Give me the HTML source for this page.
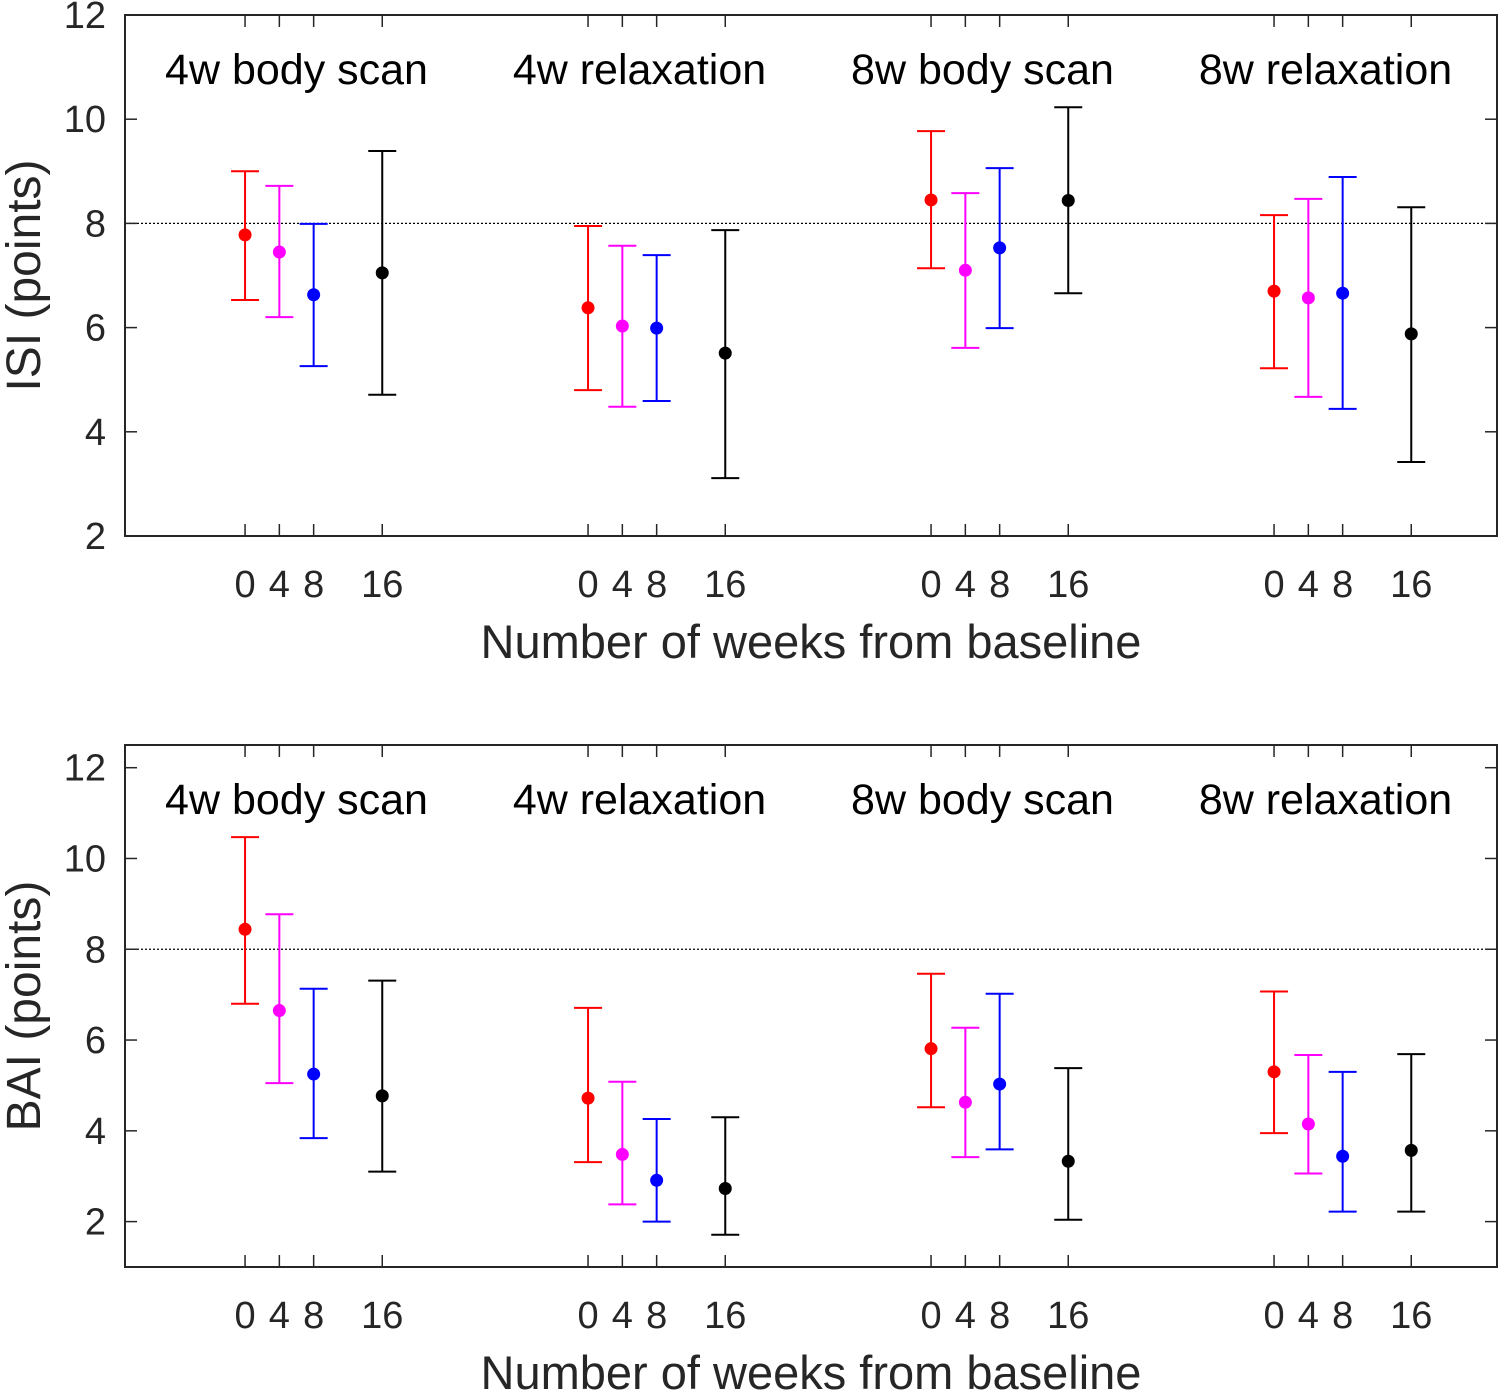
<!DOCTYPE html>
<html><head><meta charset="utf-8"><style>
body{margin:0;background:#fff;}
svg{display:block;font-family:"Liberation Sans",Arial,sans-serif;}
</style></head><body>
<svg id="c" width="1499" height="1393"></svg>
<script>
const groups=["4w body scan","4w relaxation","8w body scan","8w relaxation"];
const weeks=[0,4,8,16];
const colors=["#ff0000","#ff00ff","#0000ff","#000000"];
const isiMean=[[7.78,7.45,6.63,7.05],[6.38,6.03,5.99,5.51],[8.45,7.1,7.53,8.44],[6.7,6.57,6.66,5.88]];
const isiLo=[[6.53,6.2,5.26,4.71],[4.8,4.48,4.59,3.11],[7.14,5.61,5.99,6.66],[5.22,4.67,4.44,3.42]];
const isiHi=[[9.0,8.72,7.99,9.39],[7.95,7.57,7.39,7.87],[9.77,8.58,9.06,10.23],[8.16,8.47,8.89,8.31]];
const baiMean=[[8.44,6.65,5.25,4.77],[4.72,3.48,2.91,2.73],[5.81,4.63,5.03,3.33],[5.3,4.15,3.44,3.57]];
const baiLo=[[6.8,5.05,3.84,3.1],[3.31,2.38,2.0,1.71],[4.52,3.42,3.59,2.04],[3.95,3.06,2.22,2.22]];
const baiHi=[[10.47,8.77,7.13,7.31],[6.71,5.08,4.26,4.3],[7.46,6.27,7.02,5.38],[7.07,5.67,5.3,5.69]];
const yTicks=[2,4,6,8,10,12];
const NS="http://www.w3.org/2000/svg";
const svg=document.getElementById('c');
function mk(tag,attrs,parent){const e=document.createElementNS(NS,tag);for(const k in attrs)e.setAttribute(k,attrs[k]);(parent||svg).appendChild(e);return e;}
const X0=125,X1=1497,xmin=-14,xmax=146;
function xs(w){return X0+(w-xmin)/(xmax-xmin)*(X1-X0);}
function panel(name,top,bot,ymin,ymax,mean,lo,hi,ylabel){
  const g=mk('g',{});
  
  
  const ys=v=>bot-(v-ymin)/(ymax-ymin)*(bot-top);
  const rl=mk('line',{x1:X0,x2:X1,y1:ys(8),y2:ys(8),stroke:'#000','stroke-width':1.3,'stroke-dasharray':'2,2'},g);
  
  
  yTicks.forEach(t=>{
    const y=ys(t);
    mk('line',{x1:X0,x2:X0+12,y1:y,y2:y,stroke:'#262626','stroke-width':1.5},g);
    mk('line',{x1:X1-12,x2:X1,y1:y,y2:y,stroke:'#262626','stroke-width':1.5},g);
    const tx=mk('text',{x:106,y:y+13,'text-anchor':'end','font-size':38,fill:'#262626'},g);
    tx.textContent=t;
    
    
  });
  groups.forEach((gn,gi)=>{
    const off=gi*40;
    weeks.forEach((w,si)=>{
      const x=xs(off+w);
      mk('line',{x1:x,x2:x,y1:bot,y2:bot-12,stroke:'#262626','stroke-width':1.5},g);
      mk('line',{x1:x,x2:x,y1:top,y2:top+12,stroke:'#262626','stroke-width':1.5},g);
      const tl=mk('text',{x:x,y:bot+61,'text-anchor':'middle','font-size':38,fill:'#262626'},g);
      tl.textContent=w;
      
      
      const c=colors[si];
      const eb=mk('g',{stroke:c,'stroke-width':2},g);
      
      
      const yl=ys(lo[gi][si]),yh=ys(hi[gi][si]);
      mk('line',{x1:x,x2:x,y1:yl,y2:yh},eb);
      mk('line',{x1:x-14,x2:x+14,y1:yl,y2:yl},eb);
      mk('line',{x1:x-14,x2:x+14,y1:yh,y2:yh},eb);
      const p=mk('circle',{cx:x,cy:ys(mean[gi][si]),r:6.5,fill:c},g);
      
      
    });
    const tt=mk('text',{x:xs(off+6),y:top+69,'text-anchor':'middle','font-size':43,fill:'#000'},g);
    tt.textContent=gn;
    
    
  });
  const box=mk('rect',{x:X0,y:top,width:X1-X0,height:bot-top,fill:'none',stroke:'#262626','stroke-width':2},g);
  
  
  const xl=mk('text',{x:811,y:bot+122,'text-anchor':'middle','font-size':47,fill:'#262626'},g);
  xl.textContent='Number of weeks from baseline';
  
  
  const cy=(top+bot)/2;
  const yl=mk('text',{x:40,y:cy,'text-anchor':'middle','font-size':48,fill:'#262626',transform:`rotate(-90 40 ${cy})`},g);
  yl.textContent=ylabel;
  
  
}
panel('isi-panel',15,536,2,12,isiMean,isiLo,isiHi,'ISI (points)');
panel('bai-panel',745,1267,1,12.5,baiMean,baiLo,baiHi,'BAI (points)');
</script>
</body></html>
